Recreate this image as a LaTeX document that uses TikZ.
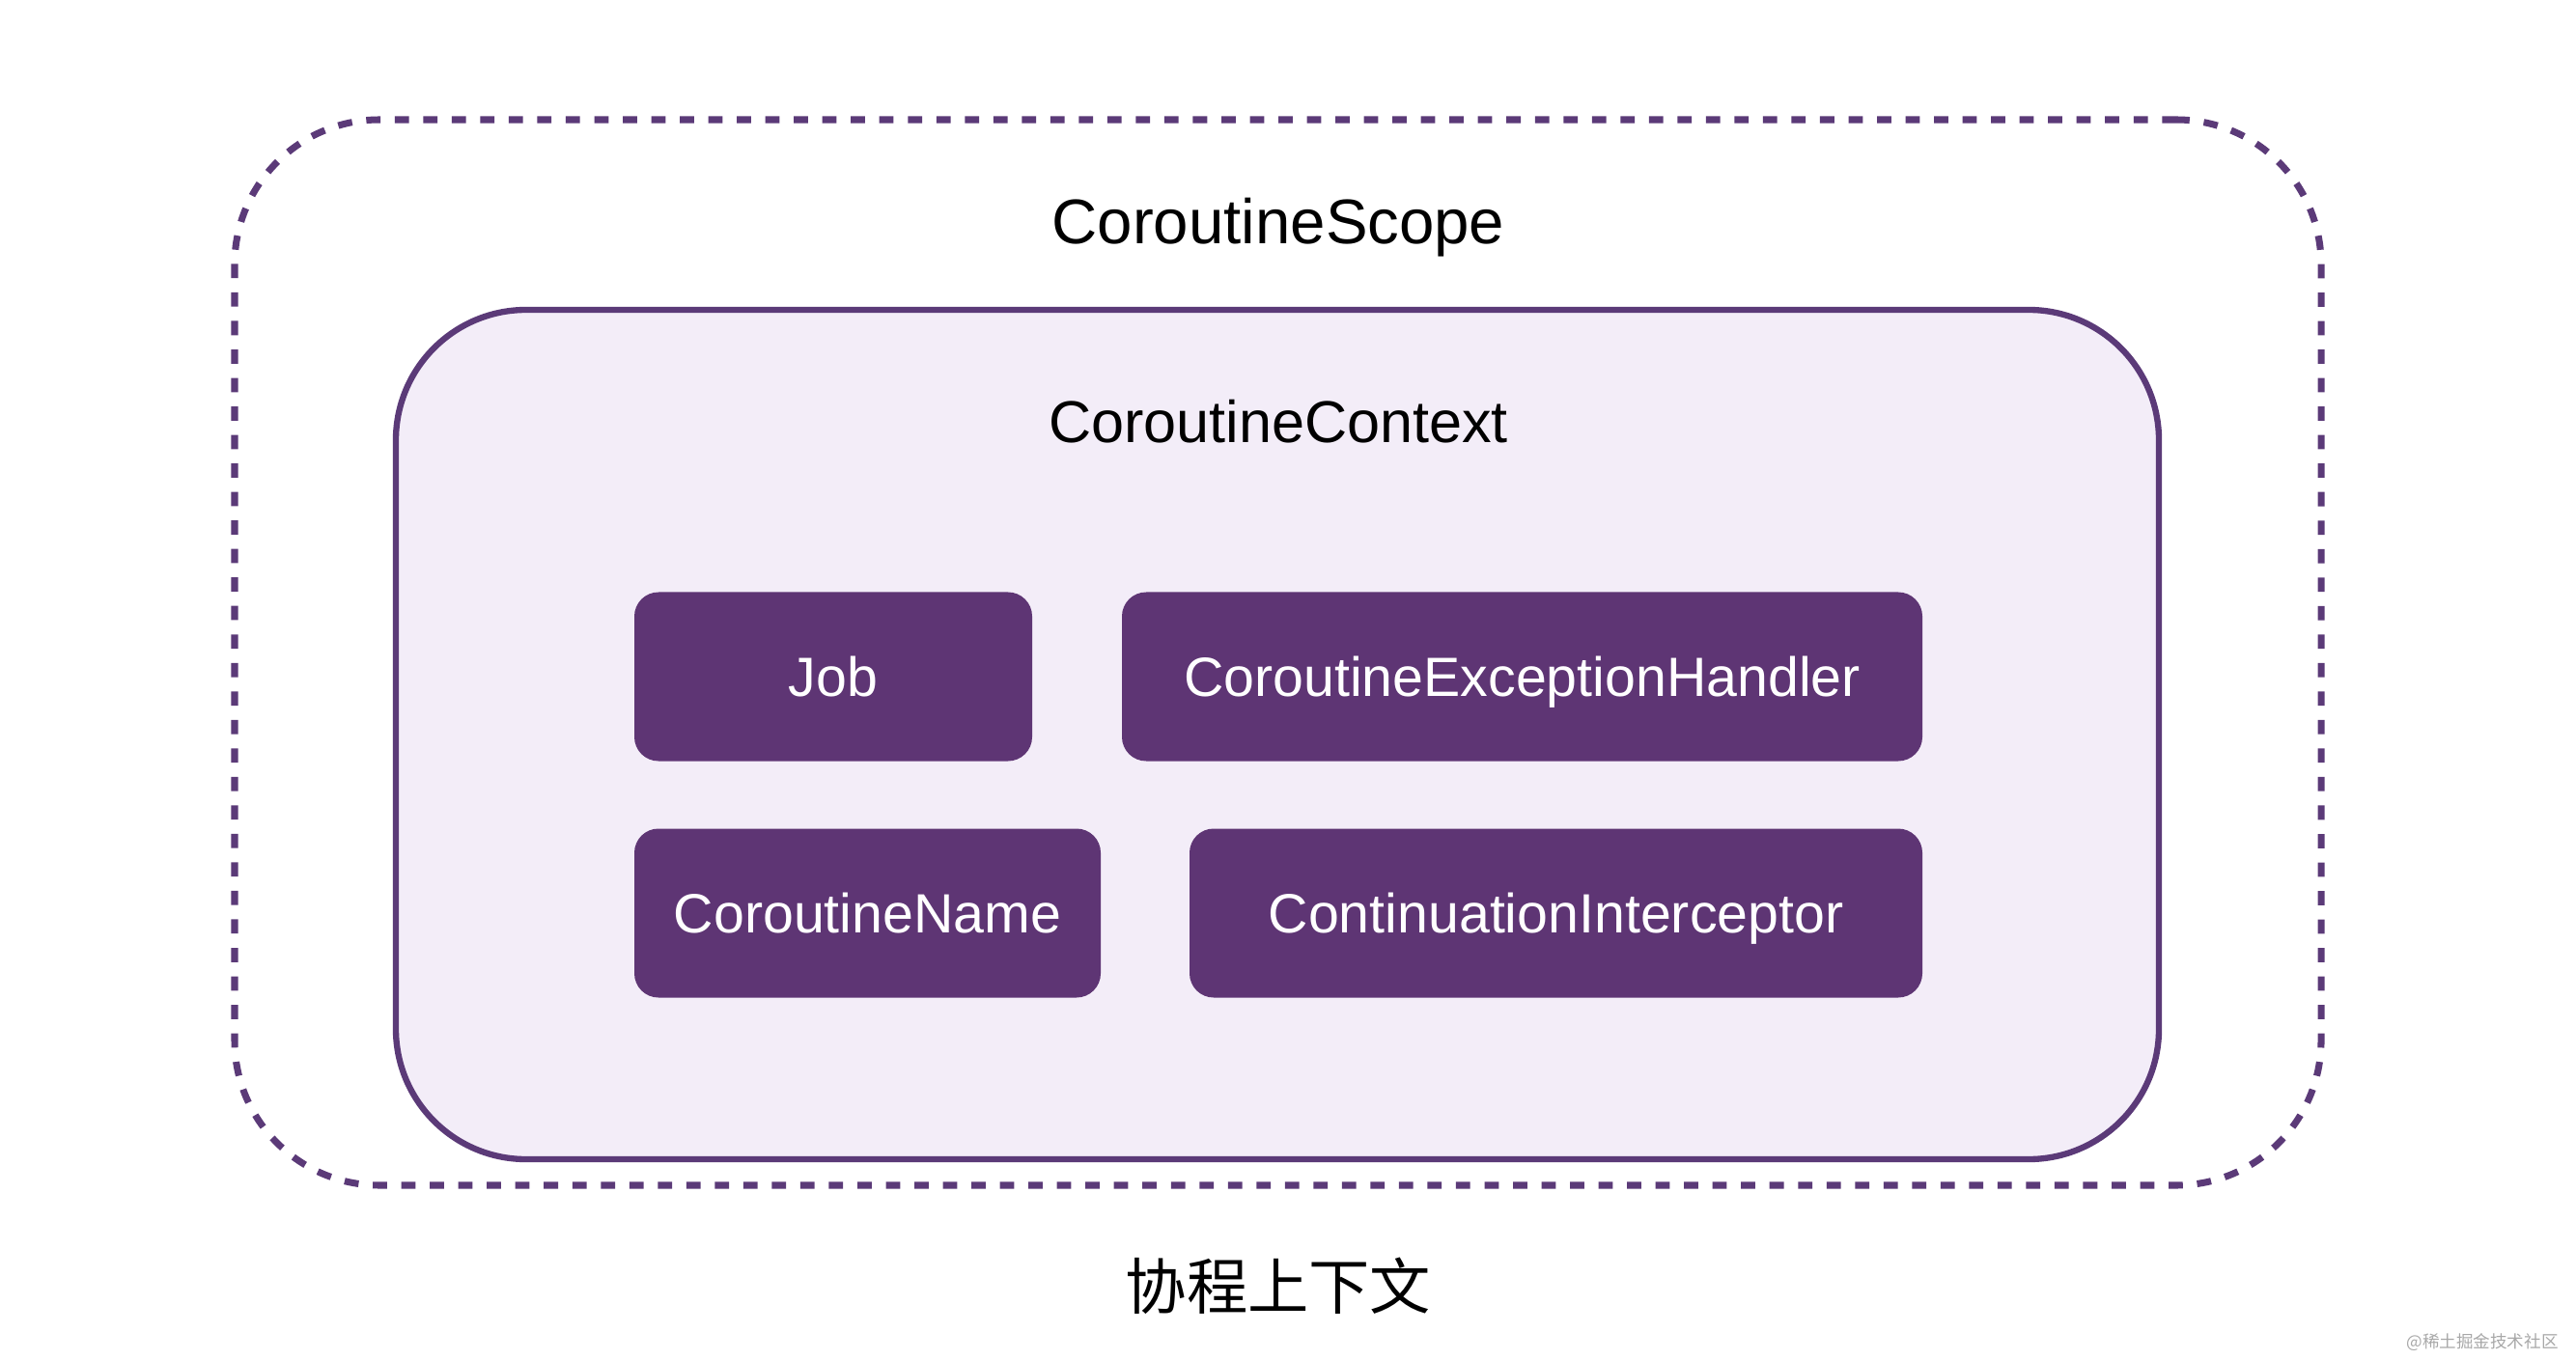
\documentclass[tikz,border=0pt]{standalone}
\usepackage{fontspec}
\setmainfont{Liberation Sans}
\newfontfamily\cjk{Noto Sans CJK SC}
\usepackage{xcolor}
\definecolor{scope-line}{HTML}{5B3A78}
\definecolor{context-bg}{HTML}{F3EDF8}
\definecolor{element-fill}{HTML}{5E3574}
\definecolor{mark-gray}{HTML}{A8A8A8}

\begin{document}
\begin{tikzpicture}[every node/.style={font=\fontsize{18}{22}\selectfont},
          title/.style={text height=13pt, text depth=0pt},
          element/.style={fill=element-fill, text=white, rounded corners=0.25cm,
                  minimum height=1.75cm, text height=11.7pt, text depth=0pt,
                  font=\fontsize{16.3}{20}\selectfont}]
        % Diagram: dashed CoroutineScope round a filled CoroutineContext,
        % which holds the four context elements in two rows.
        % Coordinates: (x, y) in cm, origin bottom left, 26.68 x 14.08 page.
        \useasboundingbox (0,0) rectangle (26.68,14.08);
        \node[draw=scope-line, line width=2pt, dash pattern=on 4.2pt off 4.2pt,
              rounded corners=1.5cm, minimum width=21.61cm,
              minimum height=11.04cm] (scope) at (13.235,7.32) {};
        \node[draw=scope-line, fill=context-bg, line width=1.8pt,
              rounded corners=1.35cm, minimum width=18.26cm,
              minimum height=8.8cm] (context) at (13.23,6.47) {};
        \node[title, font=\fontsize{18.6}{22}\selectfont] (scopelab)
              at (13.24,11.78) {CoroutineScope};
        \node[title, font=\fontsize{17.4}{22}\selectfont] (contextlab)
              at (13.24,9.72) {CoroutineContext};
        \foreach \name/\x/\y/\w/\lab in {job/8.63/7.07/4.12/Job,
            handler/15.765/7.07/8.29/CoroutineExceptionHandler,
            cname/8.985/4.62/4.83/CoroutineName,
            interceptor/16.115/4.62/7.59/ContinuationInterceptor} {
          \node[element, minimum width=\w cm] (\name) at (\x,\y) {\lab};
        }
        \node[font=\cjk\fontsize{18}{22}\selectfont] (caption) at (13.24,0.76) {协程上下文};
        \node[font=\cjk\fontsize{5}{6}\selectfont, text=mark-gray,
              anchor=east] (mark) at (26.62,0.17) {@稀土掘金技术社区};
      \end{tikzpicture}
\end{document}
